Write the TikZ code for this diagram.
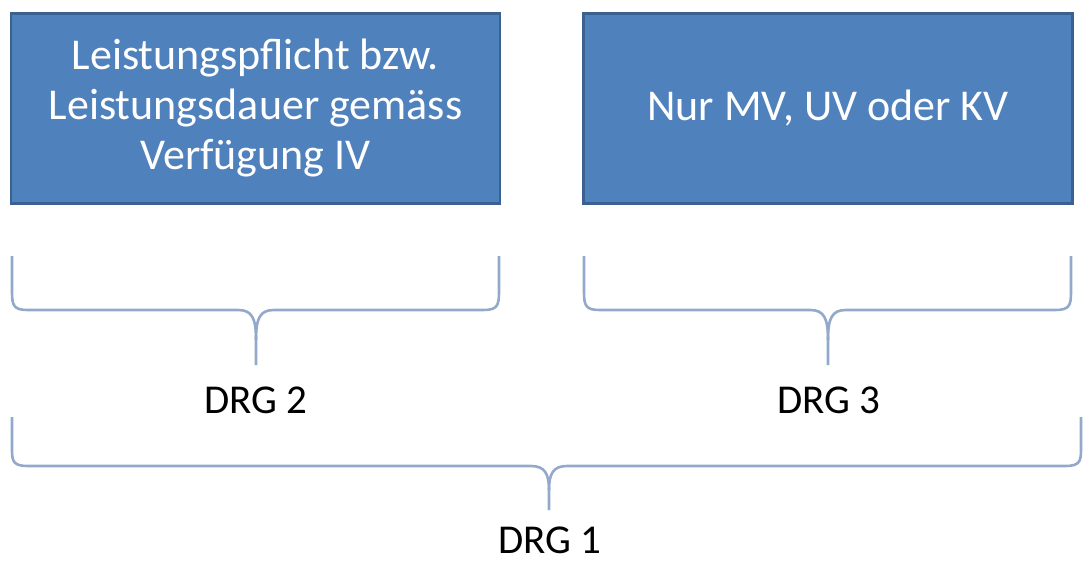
\documentclass[tikz,border=0pt]{standalone}
\usepackage{fontspec}
\setmainfont{Carlito}
\begin{document}
\begin{tikzpicture}[x=1pt,y=-1pt,
  bluebox/.style={draw=boxborder,fill=boxfill,line width=2.5pt,minimum width=489pt,minimum height=190pt,inner sep=0pt,
    text=white,align=center,font=\fontsize{44}{50}\selectfont},
  brace/.style={draw=bracecol,line width=2.6pt,line join=round},
  drg/.style={font=\fontsize{41}{48}\selectfont,text=black,inner sep=0pt}]
\definecolor{boxfill}{HTML}{4F81BD}
\definecolor{boxborder}{HTML}{3A6192}
\definecolor{bracecol}{HTML}{93A9CC}
\useasboundingbox (0,0) rectangle (1083,564);
\node[bluebox] (left) at (255.5,108.5) {Leistungspflicht bzw.\\Leistungsdauer gemäss\\Verfügung IV};
\node[bluebox] (right) at (828,108.5) {Nur MV, UV oder KV};
% braces
\coordinate (b2tip) at (256,365);
\coordinate (b3tip) at (828,365);
\coordinate (b1tip) at (549,510);
\draw[brace] (12,256) -- (12,292) .. controls (12,306) and (14,310) .. (28,310)
  -- (238,310) .. controls (252,310) and (256,318) .. (256,340) -- (b2tip);
\draw[brace] (499,256) -- (499,292) .. controls (499,306) and (497,310) .. (483,310)
  -- (274,310) .. controls (260,310) and (256,318) .. (256,340);
\draw[brace] (584,256) -- (584,292) .. controls (584,306) and (586,310) .. (600,310)
  -- (810,310) .. controls (824,310) and (828,318) .. (828,340) -- (b3tip);
\draw[brace] (1071,256) -- (1071,292) .. controls (1071,306) and (1069,310) .. (1055,310)
  -- (846,310) .. controls (832,310) and (828,318) .. (828,340);
\draw[brace] (12,417) -- (12,450) .. controls (12,462) and (14,466) .. (28,466)
  -- (531,466) .. controls (545,466) and (549,474) .. (549,490) -- (b1tip);
\draw[brace] (1081,417) -- (1081,450) .. controls (1081,462) and (1079,466) .. (1065,466)
  -- (567,466) .. controls (553,466) and (549,474) .. (549,490);
\node[drg] (drg2) at (256,400) {DRG 2};
\node[drg] (drg3) at (829,400) {DRG 3};
\node[drg] (drg1) at (550,540) {DRG 1};
\end{tikzpicture}
\end{document}
